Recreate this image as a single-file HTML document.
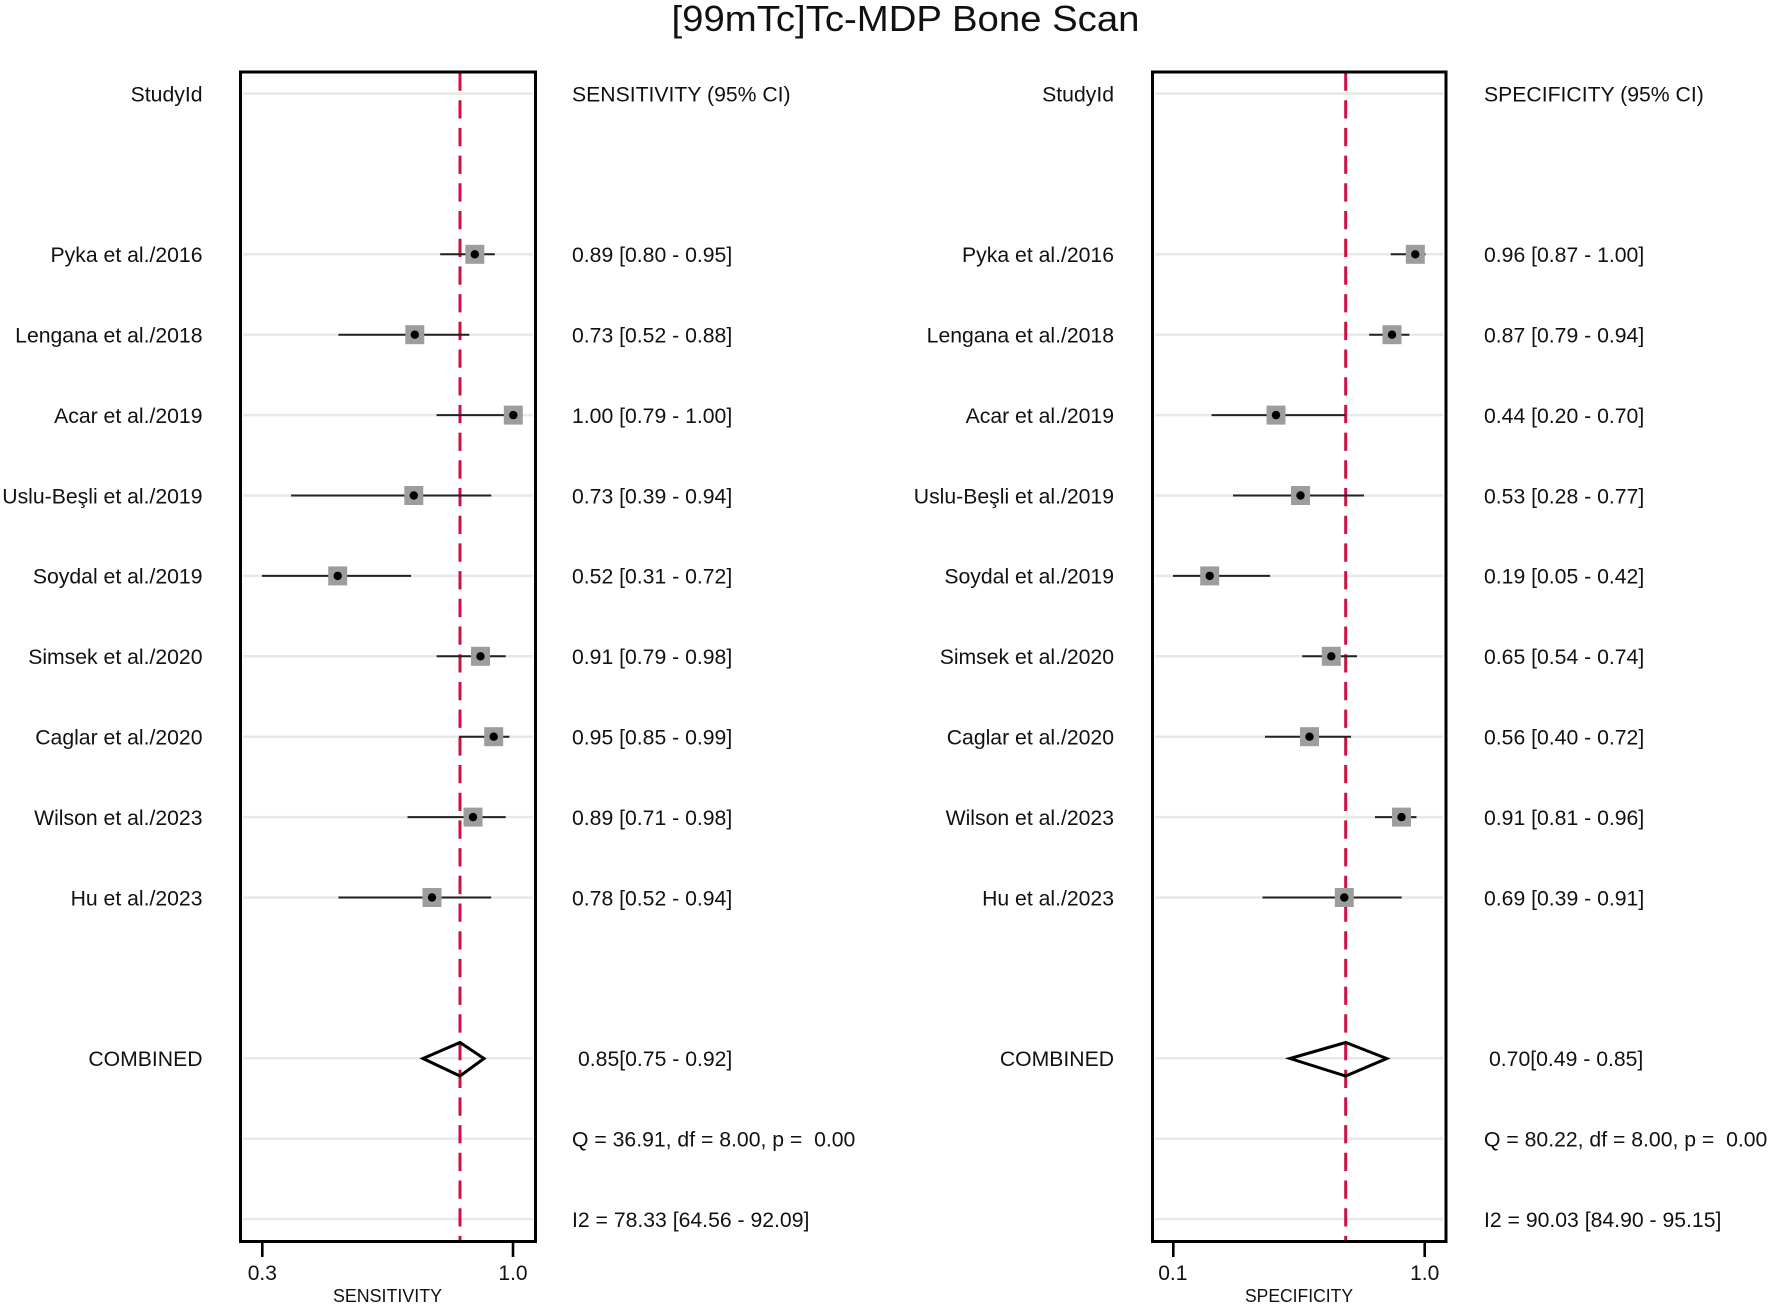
<!DOCTYPE html>
<html>
<head>
<meta charset="utf-8">
<style>
  html,body{margin:0;padding:0;background:#fff;}
  svg{display:block;}
  text{font-family:"Liberation Sans",Arial,sans-serif;fill:#111;}
</style>
</head>
<body>
<svg width="1772" height="1304" viewBox="0 0 1772 1304" xmlns="http://www.w3.org/2000/svg">
  <rect x="0" y="0" width="1772" height="1304" fill="#fff"/>

  <!-- Title -->
  <text x="905.5" y="31" font-size="36" text-anchor="middle" textLength="468" lengthAdjust="spacingAndGlyphs">[99mTc]Tc-MDP Bone Scan</text>

  <!-- ================= LEFT PANEL ================= -->
  <!-- gridlines -->
  <g stroke="#e3eae9" stroke-width="2.5">
    <line x1="243" y1="93.5" x2="533" y2="93.5"/>
    <line x1="243" y1="254.3" x2="533" y2="254.3"/>
    <line x1="243" y1="334.7" x2="533" y2="334.7"/>
    <line x1="243" y1="415.1" x2="533" y2="415.1"/>
    <line x1="243" y1="495.5" x2="533" y2="495.5"/>
    <line x1="243" y1="575.9" x2="533" y2="575.9"/>
    <line x1="243" y1="656.3" x2="533" y2="656.3"/>
    <line x1="243" y1="736.7" x2="533" y2="736.7"/>
    <line x1="243" y1="817.1" x2="533" y2="817.1"/>
    <line x1="243" y1="897.5" x2="533" y2="897.5"/>
    <line x1="243" y1="1058.3" x2="533" y2="1058.3"/>
    <line x1="243" y1="1138.7" x2="533" y2="1138.7"/>
    <line x1="243" y1="1219.1" x2="533" y2="1219.1"/>
  </g>
  <!-- dashed reference line -->
  <line x1="460" y1="72.5" x2="460" y2="1241" stroke="#cc1142" stroke-width="3" stroke-dasharray="18.3 9.4"/>
  <!-- CI lines -->
  <g stroke="#222" stroke-width="2">
    <line x1="440.2" y1="254.3" x2="494.8" y2="254.3"/>
    <line x1="338.4" y1="334.7" x2="469.3" y2="334.7"/>
    <line x1="436.6" y1="415.1" x2="513" y2="415.1"/>
    <line x1="291.1" y1="495.5" x2="491.2" y2="495.5"/>
    <line x1="262" y1="575.9" x2="411.1" y2="575.9"/>
    <line x1="436.6" y1="656.3" x2="505.7" y2="656.3"/>
    <line x1="459" y1="736.7" x2="509.4" y2="736.7"/>
    <line x1="407.5" y1="817.1" x2="505.7" y2="817.1"/>
    <line x1="338.4" y1="897.5" x2="491.2" y2="897.5"/>
  </g>
  <!-- squares -->
  <g fill="#9d9d9d">
    <rect x="465.3" y="244.8" width="19" height="19"/>
    <rect x="405.3" y="325.2" width="19" height="19"/>
    <rect x="503.8" y="405.6" width="19" height="19"/>
    <rect x="404.3" y="486" width="19" height="19"/>
    <rect x="328.2" y="566.4" width="19" height="19"/>
    <rect x="471" y="646.8" width="19" height="19"/>
    <rect x="484.2" y="727.2" width="19" height="19"/>
    <rect x="463.5" y="807.6" width="19" height="19"/>
    <rect x="422.5" y="888" width="19" height="19"/>
  </g>
  <!-- dots -->
  <g fill="#000">
    <circle cx="474.8" cy="254.3" r="4.2"/>
    <circle cx="414.8" cy="334.7" r="4.2"/>
    <circle cx="513.3" cy="415.1" r="4.2"/>
    <circle cx="413.8" cy="495.5" r="4.2"/>
    <circle cx="337.7" cy="575.9" r="4.2"/>
    <circle cx="480.5" cy="656.3" r="4.2"/>
    <circle cx="493.7" cy="736.7" r="4.2"/>
    <circle cx="473" cy="817.1" r="4.2"/>
    <circle cx="432" cy="897.5" r="4.2"/>
  </g>
  <!-- diamond -->
  <polygon points="423,1058.5 460,1042.5 484,1058.5 460,1076" fill="none" stroke="#000" stroke-width="3" stroke-linejoin="miter"/>
  <!-- box -->
  <rect x="240.5" y="72" width="295" height="1169.5" fill="none" stroke="#000" stroke-width="3"/>
  <!-- ticks -->
  <g stroke="#000" stroke-width="2.6">
    <line x1="262.3" y1="1242" x2="262.3" y2="1257"/>
    <line x1="513" y1="1242" x2="513" y2="1257"/>
  </g>
  <text x="262.3" y="1280" font-size="21" text-anchor="middle">0.3</text>
  <text x="513" y="1280" font-size="21" text-anchor="middle">1.0</text>
  <text x="387.5" y="1302" font-size="18" text-anchor="middle" textLength="109" lengthAdjust="spacingAndGlyphs">SENSITIVITY</text>

  <!-- left labels -->
  <g font-size="21.2" text-anchor="end">
    <text x="202.5" y="101.3">StudyId</text>
    <text x="202.5" y="262.1">Pyka et al./2016</text>
    <text x="202.5" y="342.5">Lengana et al./2018</text>
    <text x="202.5" y="422.9">Acar et al./2019</text>
    <text x="202.5" y="503.3">Uslu-Beşli et al./2019</text>
    <text x="202.5" y="583.7">Soydal et al./2019</text>
    <text x="202.5" y="664.1">Simsek et al./2020</text>
    <text x="202.5" y="744.5">Caglar et al./2020</text>
    <text x="202.5" y="824.9">Wilson et al./2023</text>
    <text x="202.5" y="905.3">Hu et al./2023</text>
    <text x="202.5" y="1066.1">COMBINED</text>
  </g>
  <!-- left values -->
  <g font-size="21.2" xml:space="preserve">
    <text x="572" y="101.3">SENSITIVITY (95% CI)</text>
    <text x="572" y="262.1">0.89 [0.80 - 0.95]</text>
    <text x="572" y="342.5">0.73 [0.52 - 0.88]</text>
    <text x="572" y="422.9">1.00 [0.79 - 1.00]</text>
    <text x="572" y="503.3">0.73 [0.39 - 0.94]</text>
    <text x="572" y="583.7">0.52 [0.31 - 0.72]</text>
    <text x="572" y="664.1">0.91 [0.79 - 0.98]</text>
    <text x="572" y="744.5">0.95 [0.85 - 0.99]</text>
    <text x="572" y="824.9">0.89 [0.71 - 0.98]</text>
    <text x="572" y="905.3">0.78 [0.52 - 0.94]</text>
    <text x="578" y="1066.1">0.85[0.75 - 0.92]</text>
    <text x="572" y="1146.5">Q = 36.91, df = 8.00, p =&#160; 0.00</text>
    <text x="572" y="1226.9">I2 = 78.33 [64.56 - 92.09]</text>
  </g>

  <!-- ================= RIGHT PANEL ================= -->
  <g stroke="#e3eae9" stroke-width="2.5">
    <line x1="1155" y1="93.5" x2="1443" y2="93.5"/>
    <line x1="1155" y1="254.3" x2="1443" y2="254.3"/>
    <line x1="1155" y1="334.7" x2="1443" y2="334.7"/>
    <line x1="1155" y1="415.1" x2="1443" y2="415.1"/>
    <line x1="1155" y1="495.5" x2="1443" y2="495.5"/>
    <line x1="1155" y1="575.9" x2="1443" y2="575.9"/>
    <line x1="1155" y1="656.3" x2="1443" y2="656.3"/>
    <line x1="1155" y1="736.7" x2="1443" y2="736.7"/>
    <line x1="1155" y1="817.1" x2="1443" y2="817.1"/>
    <line x1="1155" y1="897.5" x2="1443" y2="897.5"/>
    <line x1="1155" y1="1058.3" x2="1443" y2="1058.3"/>
    <line x1="1155" y1="1138.7" x2="1443" y2="1138.7"/>
    <line x1="1155" y1="1219.1" x2="1443" y2="1219.1"/>
  </g>
  <line x1="1345.7" y1="72.5" x2="1345.7" y2="1241" stroke="#cc1142" stroke-width="3" stroke-dasharray="18.3 9.4"/>
  <g stroke="#222" stroke-width="2">
    <line x1="1390.7" y1="254.3" x2="1425.5" y2="254.3"/>
    <line x1="1369.2" y1="334.7" x2="1409.4" y2="334.7"/>
    <line x1="1211.6" y1="415.1" x2="1345.1" y2="415.1"/>
    <line x1="1233" y1="495.5" x2="1364" y2="495.5"/>
    <line x1="1173" y1="575.9" x2="1270.1" y2="575.9"/>
    <line x1="1302.2" y1="656.3" x2="1357" y2="656.3"/>
    <line x1="1265" y1="736.7" x2="1351" y2="736.7"/>
    <line x1="1375" y1="817.1" x2="1416.5" y2="817.1"/>
    <line x1="1262.5" y1="897.5" x2="1401.7" y2="897.5"/>
  </g>
  <g fill="#9d9d9d">
    <rect x="1405.8" y="244.8" width="19" height="19"/>
    <rect x="1382.5" y="325.2" width="19" height="19"/>
    <rect x="1266.5" y="405.6" width="19" height="19"/>
    <rect x="1291" y="486" width="19" height="19"/>
    <rect x="1200.2" y="566.4" width="19" height="19"/>
    <rect x="1321.8" y="646.8" width="19" height="19"/>
    <rect x="1300" y="727.2" width="19" height="19"/>
    <rect x="1392" y="807.6" width="19" height="19"/>
    <rect x="1334.8" y="888" width="19" height="19"/>
  </g>
  <g fill="#000">
    <circle cx="1415.3" cy="254.3" r="4.2"/>
    <circle cx="1392" cy="334.7" r="4.2"/>
    <circle cx="1276" cy="415.1" r="4.2"/>
    <circle cx="1300.5" cy="495.5" r="4.2"/>
    <circle cx="1209.7" cy="575.9" r="4.2"/>
    <circle cx="1331.3" cy="656.3" r="4.2"/>
    <circle cx="1309.5" cy="736.7" r="4.2"/>
    <circle cx="1401.5" cy="817.1" r="4.2"/>
    <circle cx="1344.3" cy="897.5" r="4.2"/>
  </g>
  <polygon points="1290,1058.5 1345.7,1042.5 1386.7,1058.5 1345.7,1076" fill="none" stroke="#000" stroke-width="3" stroke-linejoin="miter"/>
  <rect x="1152.5" y="72" width="293.5" height="1169.5" fill="none" stroke="#000" stroke-width="3"/>
  <g stroke="#000" stroke-width="2.6">
    <line x1="1173.3" y1="1242" x2="1173.3" y2="1257"/>
    <line x1="1424.7" y1="1242" x2="1424.7" y2="1257"/>
  </g>
  <text x="1172.8" y="1280" font-size="21" text-anchor="middle">0.1</text>
  <text x="1424.7" y="1280" font-size="21" text-anchor="middle">1.0</text>
  <text x="1299" y="1302" font-size="18" text-anchor="middle" textLength="108" lengthAdjust="spacingAndGlyphs">SPECIFICITY</text>

  <g font-size="21.2" text-anchor="end">
    <text x="1114" y="101.3">StudyId</text>
    <text x="1114" y="262.1">Pyka et al./2016</text>
    <text x="1114" y="342.5">Lengana et al./2018</text>
    <text x="1114" y="422.9">Acar et al./2019</text>
    <text x="1114" y="503.3">Uslu-Beşli et al./2019</text>
    <text x="1114" y="583.7">Soydal et al./2019</text>
    <text x="1114" y="664.1">Simsek et al./2020</text>
    <text x="1114" y="744.5">Caglar et al./2020</text>
    <text x="1114" y="824.9">Wilson et al./2023</text>
    <text x="1114" y="905.3">Hu et al./2023</text>
    <text x="1114" y="1066.1">COMBINED</text>
  </g>
  <g font-size="21.2" xml:space="preserve">
    <text x="1484" y="101.3">SPECIFICITY (95% CI)</text>
    <text x="1484" y="262.1">0.96 [0.87 - 1.00]</text>
    <text x="1484" y="342.5">0.87 [0.79 - 0.94]</text>
    <text x="1484" y="422.9">0.44 [0.20 - 0.70]</text>
    <text x="1484" y="503.3">0.53 [0.28 - 0.77]</text>
    <text x="1484" y="583.7">0.19 [0.05 - 0.42]</text>
    <text x="1484" y="664.1">0.65 [0.54 - 0.74]</text>
    <text x="1484" y="744.5">0.56 [0.40 - 0.72]</text>
    <text x="1484" y="824.9">0.91 [0.81 - 0.96]</text>
    <text x="1484" y="905.3">0.69 [0.39 - 0.91]</text>
    <text x="1489" y="1066.1">0.70[0.49 - 0.85]</text>
    <text x="1484" y="1146.5">Q = 80.22, df = 8.00, p =&#160; 0.00</text>
    <text x="1484" y="1226.9">I2 = 90.03 [84.90 - 95.15]</text>
  </g>
</svg>
</body>
</html>
